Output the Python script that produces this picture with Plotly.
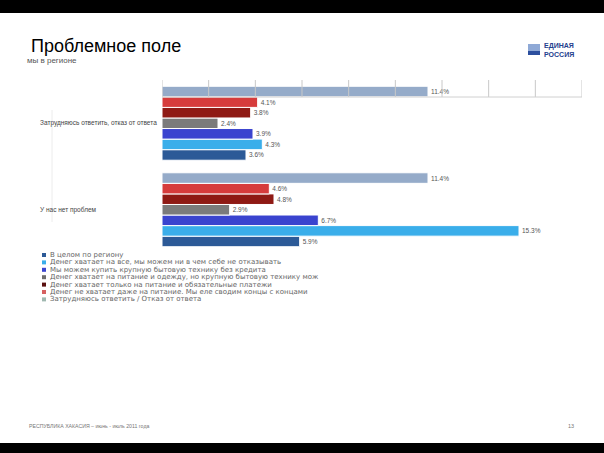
import plotly.graph_objects as go

# Data
categories = ["У нас нет проблем", "Затрудняюсь ответить, отказ от ответа"]

series_names = [
    "В целом по региону",
    "Денег хватает на все, мы можем ни в чем себе не отказывать",
    "Мы можем купить крупную бытовую технику без кредита",
    "Денег хватает на питание и одежду, но крупную бытовую технику мож",
    "Денег хватает только на питание и обязательные платежи",
    "Денег не хватает даже на питание. Мы еле сводим концы с концами",
    "Затрудняюсь ответить / Отказ от ответа",
]
# values per series: [У нас нет проблем, Затрудняюсь ответить]
v_region = [5.9, 3.6]
v_all = [15.3, 4.3]
v_appliance = [6.7, 3.9]
v_clothes = [2.9, 2.4]
v_food_only = [4.8, 3.8]
v_no_food = [4.6, 4.1]
v_no_answer = [11.4, 11.4]
series_values = [v_region, v_all, v_appliance, v_clothes, v_food_only, v_no_food, v_no_answer]

colors = ["#2c5a97", "#3aaeea", "#3a44cf", "#7b7b7b", "#8f1a14", "#d63c3c", "#95abc9"]
legend_colors = ["#2c5a97", "#3aaeea", "#3a44cf", "#6e6e6e", "#5a1010", "#d66060", "#9fb8b0"]

W, H = 604, 453
L, R, T, B = 162, 582, 80, 253


def px_x(p):
    return (p - L) / (R - L)


def px_y(p):
    return (B - p) / (B - T)


fig = go.Figure()
for name, vals, col in zip(series_names, series_values, colors):
    fig.add_trace(go.Bar(
        y=categories, x=vals, name=name, orientation="h",
        marker=dict(color=col, line=dict(color="white", width=1)),
        text=[f"{v:.1f}%" for v in vals], textposition="outside",
        textfont=dict(size=6.5, color="#555555"), cliponaxis=False,
        showlegend=False, hoverinfo="skip",
    ))

shapes = []
# short grid at the top band
for g in range(0, 20, 2):
    shapes.append(dict(type="line", xref="x", yref="paper", x0=g, x1=g,
                       y0=px_y(97), y1=1, line=dict(color="#c8c8c8", width=1)))
shapes.append(dict(type="line", xref="x", yref="paper", x0=0, x1=18,
                   y0=px_y(97), y1=px_y(97), line=dict(color="#d0d0d0", width=1)))
shapes.append(dict(type="line", xref="paper", yref="paper", x0=px_x(52), x1=px_x(52),
                   y0=px_y(110), y1=px_y(222), line=dict(color="#ececec", width=1)))
# black bands top / bottom
shapes.append(dict(type="rect", xref="paper", yref="paper", x0=px_x(0), x1=px_x(W),
                   y0=px_y(13), y1=px_y(0), fillcolor="black", line=dict(width=0), layer="below"))
shapes.append(dict(type="rect", xref="paper", yref="paper", x0=px_x(0), x1=px_x(W),
                   y0=px_y(H), y1=px_y(443), fillcolor="black", line=dict(width=0), layer="below"))

annotations = []
# category labels, left aligned
cat_y = [209.5, 123]
for c, yy in zip(categories, cat_y):
    annotations.append(dict(text=c, xref="paper", yref="paper", x=px_x(38), y=px_y(yy),
                            xanchor="left", yanchor="middle", showarrow=False,
                            font=dict(size=6.5, color="#444444")))

# custom legend
for i, (name, col) in enumerate(zip(series_names, legend_colors)):
    yy = 255 + i * 7.4
    shapes.append(dict(type="rect", xref="paper", yref="paper",
                       x0=px_x(42), x1=px_x(46), y0=px_y(yy + 2), y1=px_y(yy - 2),
                       fillcolor=col, line=dict(width=0)))
    annotations.append(dict(text=name, xref="paper", yref="paper", x=px_x(48), y=px_y(yy),
                            xanchor="left", yanchor="middle", showarrow=False,
                            font=dict(size=7, color="#666666", family="DejaVu Sans")))

# title, subtitle, logo, footer
annotations += [
    dict(text="Проблемное поле", xref="paper", yref="paper", x=px_x(29), y=px_y(46),
         xanchor="left", yanchor="middle", showarrow=False,
         font=dict(size=18, color="#000000", family="Liberation Sans, Arial")),
    dict(text="мы в регионе", xref="paper", yref="paper", x=px_x(25), y=px_y(60),
         xanchor="left", yanchor="middle", showarrow=False,
         font=dict(size=8, color="#555555")),
    dict(text="<b>ЕДИНАЯ<br>РОССИЯ</b>", xref="paper", yref="paper", x=px_x(542), y=px_y(50),
         xanchor="left", yanchor="middle", showarrow=False, align="left",
         font=dict(size=7, color="#23408e")),
    dict(text="РЕСПУБЛИКА ХАКАСИЯ – июнь - июль 2011 года", xref="paper", yref="paper",
         x=px_x(27), y=px_y(426), xanchor="left", yanchor="middle", showarrow=False,
         font=dict(size=5.2, color="#777777")),
    dict(text="13", xref="paper", yref="paper", x=px_x(571), y=px_y(426),
         xanchor="center", yanchor="middle", showarrow=False,
         font=dict(size=5.5, color="#777777")),
]
# logo mark
shapes.append(dict(type="rect", xref="paper", yref="paper", x0=px_x(528), x1=px_x(540),
                   y0=px_y(55), y1=px_y(44), fillcolor="#8fa9d6", line=dict(width=0)))
shapes.append(dict(type="rect", xref="paper", yref="paper", x0=px_x(528), x1=px_x(540),
                   y0=px_y(55), y1=px_y(51), fillcolor="#2c4f9e", line=dict(width=0)))

fig.update_layout(
    width=W, height=H,
    margin=dict(l=L, r=W - R, t=T, b=H - B),
    paper_bgcolor="white", plot_bgcolor="white",
    barmode="group", bargap=0.145, bargroupgap=0,
    font=dict(family="Liberation Sans, Arial, sans-serif"),
    xaxis=dict(range=[0, 18], showgrid=False, zeroline=False, showticklabels=False,
               showline=False, ticks=""),
    yaxis=dict(categoryorder="array", categoryarray=categories, range=[-0.5, 1.5],
               showticklabels=False, showgrid=False, zeroline=False, showline=False, ticks=""),
    shapes=shapes, annotations=annotations,
)

# page body margin off so the figure sits at the window origin
fig.write_html("out.html", config={"displayModeBar": False},
               post_script="document.body.style.margin='0';")
